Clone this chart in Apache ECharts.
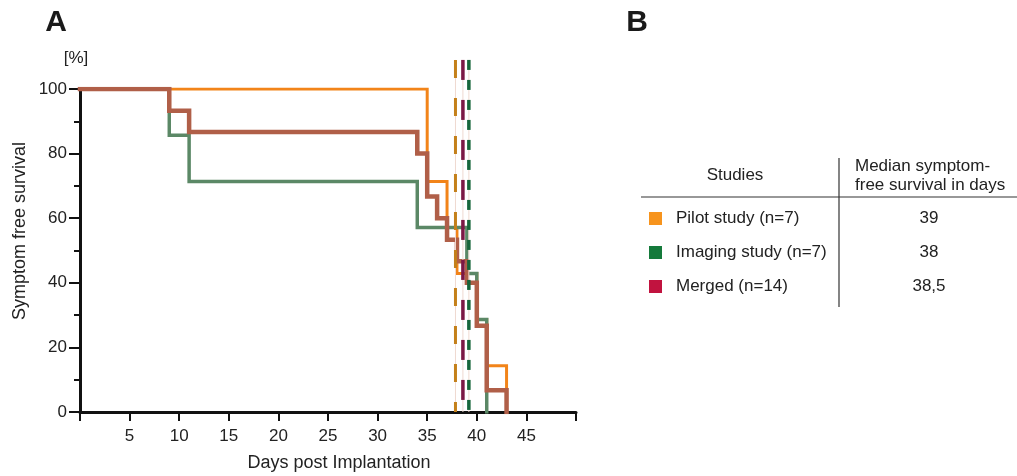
<!DOCTYPE html>
<html lang="en">
<head>
    <meta charset="utf-8">
    <title>Symptom free survival</title>
    <script src="https://cdn.jsdelivr.net/npm/echarts@6/dist/echarts.min.js"></script>
    <style>
        html, body { margin: 0; padding: 0; background: #fff; }
        #main { width: 1017px; height: 476px; }
    </style>
</head>
<body>
<div id="main"></div>
<script type="text/javascript">
    // Kaplan-Meier steps
    var pilotDays = [0, 35, 37, 38, 40, 41, 43];
    var pilotSurv = [100, 71.4, 57.1, 42.9, 28.6, 14.3, 0];
    var imagingDays = [0, 9, 11, 34, 39, 40, 41];
    var imagingSurv = [100, 85.7, 71.4, 57.1, 42.9, 28.6, 0];
    var mergedDays = [0, 9, 11, 34, 35, 36, 37, 38, 39, 40, 41, 43];
    var mergedSurv = [100, 93.3, 86.7, 80, 66.7, 60, 53.3, 46.7, 40, 26.7, 6.7, 0];

    // dashed median markers (gold, maroon, green) and how high they reach
    var medianDays = [37.85, 38.6, 39.2];
    var medianTop = 109;

    var xLabels = [5, 10, 15, 20, 25, 30, 35, 40, 45];
    var yLabels = [0, 20, 40, 60, 80, 100];

    // table B
    var studies = ['Pilot study (n=7)', 'Imaging study (n=7)', 'Merged (n=14)'];
    var medians = ['39', '38', '38,5'];
    var studyColors = ['#f7941d', '#157a3b', '#c1133f'];

    var font = 'Liberation Sans, Arial, sans-serif';

    function pairs(xs, ys) {
        var out = [];
        for (var i = 0; i < xs.length; i++) out.push([xs[i], ys[i]]);
        return out;
    }

    var myChart = echarts.init(document.getElementById('main'));

    var stepSeries = [
        {name: 'Pilot', data: pairs(pilotDays, pilotSurv), color: '#f28419', width: 3},
        {name: 'Imaging', data: pairs(imagingDays, imagingSurv), color: '#5b8866', width: 3.5},
        {name: 'Merged', data: pairs(mergedDays, mergedSurv), color: '#b05f48', width: 4.5}
    ].map(function (s) {
        return {
            name: s.name,
            type: 'line',
            step: 'end',
            showSymbol: false,
            silent: true,
            data: s.data,
            lineStyle: {color: s.color, width: s.width, cap: 'square', join: 'miter'}
        };
    });

    var dashStyles = [
        {color: '#c4801a', width: 3, type: [18, 20]},
        {color: '#7b1845', width: 3.5, type: [20, 20]},
        {color: '#16663a', width: 3.5, type: [10, 10]}
    ];
    var dashSeries = [];
    medianDays.forEach(function (d, i) {
        var pts = [[d, medianTop], [d, 0]];
        dashSeries.push({
            type: 'line', showSymbol: false, silent: true, clip: false, data: pts,
            lineStyle: {color: '#efd9d0', width: 1}, z: 3
        });
        dashSeries.push({
            type: 'line', showSymbol: false, silent: true, clip: false, data: pts,
            lineStyle: dashStyles[i], z: 4
        });
    });

    // table graphics
    var tf = '17px ' + font;
    var tableEls = [
        {type: 'line', shape: {x1: 839, y1: 158, x2: 839, y2: 307}, style: {stroke: '#333', lineWidth: 1.2}},
        {type: 'line', shape: {x1: 641, y1: 197, x2: 1017, y2: 197}, style: {stroke: '#333', lineWidth: 1.2}},
        {type: 'text', x: 735, y: 175, style: {text: 'Studies', font: tf, fill: '#222', align: 'center', verticalAlign: 'middle'}},
        {type: 'text', x: 855, y: 166, style: {text: 'Median symptom-', font: tf, fill: '#222', align: 'left', verticalAlign: 'middle'}},
        {type: 'text', x: 855, y: 185, style: {text: 'free survival in days', font: tf, fill: '#222', align: 'left', verticalAlign: 'middle'}}
    ];
    var rowY = [218, 252, 286];
    studies.forEach(function (s, i) {
        tableEls.push({type: 'rect', shape: {x: 649, y: rowY[i] - 6, width: 13, height: 13}, style: {fill: studyColors[i]}});
        tableEls.push({type: 'text', x: 676, y: rowY[i], style: {text: s, font: tf, fill: '#222', align: 'left', verticalAlign: 'middle'}});
        tableEls.push({type: 'text', x: 929, y: rowY[i], style: {text: medians[i], font: tf, fill: '#222', align: 'center', verticalAlign: 'middle'}});
    });

    myChart.setOption({
        animation: false,
        backgroundColor: '#fff',
        textStyle: {fontFamily: font},
        grid: {left: 80, right: 441, top: 89, bottom: 64, containLabel: false, outerBoundsMode: 'none'},
        xAxis: {
            type: 'value',
            min: 0,
            max: 50,
            interval: 5,
            name: 'Days post Implantation',
            nameLocation: 'middle',
            nameGap: 42,
            nameTextStyle: {fontSize: 18, color: '#222', fontFamily: font, padding: [0, 0, 0, 22]},
            axisLine: {lineStyle: {color: '#111', width: 3}},
            axisTick: {length: 9, lineStyle: {color: '#111', width: 2}},
            axisLabel: {
                fontSize: 17, color: '#222', margin: 16, fontFamily: font,
                formatter: function (v) { return xLabels.indexOf(v) >= 0 ? String(v) : ''; }
            },
            splitLine: {show: false}
        },
        yAxis: {
            type: 'value',
            min: 0,
            max: 100,
            interval: 20,
            axisLine: {show: true, lineStyle: {color: '#111', width: 3}},
            axisTick: {show: true, length: 11, lineStyle: {color: '#111', width: 2}},
            minorTick: {show: true, splitNumber: 2, length: 6, lineStyle: {color: '#111', width: 2}},
            axisLabel: {
                fontSize: 17, color: '#222', margin: 13, fontFamily: font,
                formatter: function (v) { return yLabels.indexOf(v) >= 0 ? String(v) : ''; }
            },
            splitLine: {show: false},
            minorSplitLine: {show: false}
        },
        graphic: [
            {type: 'text', x: 56, y: 23, style: {text: 'A', font: 'bold 30px ' + font, fill: '#1a1a1a', align: 'center', verticalAlign: 'middle'}},
            {type: 'text', x: 637, y: 23, style: {text: 'B', font: 'bold 30px ' + font, fill: '#1a1a1a', align: 'center', verticalAlign: 'middle'}},
            {type: 'text', x: 76, y: 58, style: {text: '[%]', font: '17px ' + font, fill: '#222', align: 'center', verticalAlign: 'middle'}},
            {type: 'text', x: 20, y: 231, rotation: Math.PI / 2, style: {text: 'Symptom free survival', font: '18px ' + font, fill: '#222', align: 'center', verticalAlign: 'middle'}}
        ].concat(tableEls),
        series: stepSeries.concat(dashSeries)
    });
</script>
</body>
</html>
